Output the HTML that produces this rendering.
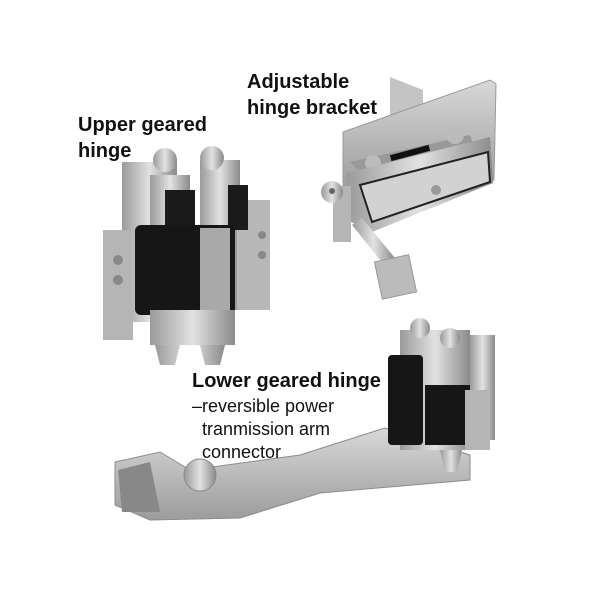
<!DOCTYPE html>
<html><head><style>
body{margin:0;background:#fff;}
svg{display:block}
.b{font-family:"Liberation Sans",sans-serif;font-weight:bold;font-size:20px;fill:#111}
.r{font-family:"Liberation Sans",sans-serif;font-size:18px;fill:#111}
</style></head><body>
<svg width="600" height="600" viewBox="0 0 600 600">
<defs>
<linearGradient id="m" x1="0" x2="1"><stop offset="0" stop-color="#9a9a9a"/><stop offset=".5" stop-color="#e2e2e2"/><stop offset="1" stop-color="#8a8a8a"/></linearGradient>
<linearGradient id="m2" x1="0" y1="0" x2="0" y2="1"><stop offset="0" stop-color="#d8d8d8"/><stop offset="1" stop-color="#9c9c9c"/></linearGradient>
</defs>
<!-- Upper hinge -->
<rect x="122" y="162" width="55" height="160" fill="url(#m)"/>
<rect x="200" y="160" width="40" height="150" fill="url(#m)"/>
<rect x="103" y="230" width="30" height="110" fill="#b5b5b5"/>
<rect x="237" y="200" width="33" height="110" fill="#b8b8b8"/>
<rect x="150" y="175" width="40" height="60" fill="url(#m)"/>
<rect x="165" y="190" width="30" height="45" fill="#1a1a1a"/>
<rect x="228" y="185" width="20" height="45" fill="#1a1a1a"/>
<rect x="135" y="225" width="100" height="90" rx="6" fill="#161616"/>
<rect x="200" y="228" width="30" height="90" fill="#a9a9a9"/>
<rect x="150" y="310" width="85" height="35" fill="url(#m)"/>
<circle cx="165" cy="160" r="12" fill="url(#m)"/><circle cx="212" cy="158" r="12" fill="url(#m)"/>
<path d="M155 345h25l-5 20h-15z M200 345h25l-5 20h-15z" fill="url(#m)"/>
<circle cx="118" cy="260" r="5" fill="#888"/><circle cx="118" cy="280" r="5" fill="#888"/><circle cx="262" cy="235" r="4" fill="#888"/><circle cx="262" cy="255" r="4" fill="#888"/>
<!-- Bracket -->
<polygon points="390,77 423,90 423,127 390,135" fill="#c4c4c4"/>
<polygon points="343,132 490,80 496,84 494,180 343,190" fill="url(#m2)" stroke="#999"/>
<polygon points="350,162 470,135 475,150 360,172" fill="#999"/>
<rect x="390" y="150" width="40" height="6" fill="#111" transform="rotate(-15 410 153)"/>
<circle cx="373" cy="163" r="8" fill="#bbb"/><circle cx="455" cy="135" r="9" fill="#bbb"/>
<polygon points="347,173 490,137 493,183 372,232 347,220" fill="url(#m)"/>
<polygon points="360,185 488,152 490,182 372,222" fill="#d2d2d2" stroke="#222" stroke-width="2"/>
<circle cx="436" cy="190" r="5" fill="#999"/>
<rect x="333" y="186" width="18" height="56" fill="#b5b5b5"/>
<circle cx="332" cy="192" r="11" fill="url(#m)"/><circle cx="332" cy="191" r="3" fill="#666"/>
<polygon points="352,225 362,218 395,258 385,266" fill="url(#m)"/>
<rect x="378" y="258" width="35" height="38" fill="#bbb" stroke="#999" transform="rotate(-12 395 277)"/>
<!-- Arm -->
<polygon points="115,462 160,452 190,470 300,455 385,428 470,455 470,480 320,493 240,518 150,520 115,505" fill="url(#m2)" stroke="#8c8c8c"/>
<polygon points="118,470 150,462 160,512 122,512" fill="#888"/>
<circle cx="200" cy="475" r="16" fill="url(#m)" stroke="#888"/>
<!-- Lower hinge -->
<rect x="470" y="335" width="25" height="105" fill="url(#m)"/>
<rect x="400" y="330" width="70" height="120" fill="url(#m)"/>
<rect x="388" y="355" width="35" height="90" rx="4" fill="#161616"/>
<rect x="425" y="385" width="45" height="60" fill="#161616"/>
<rect x="465" y="390" width="25" height="60" fill="#b5b5b5"/>
<circle cx="420" cy="328" r="10" fill="url(#m)"/><circle cx="450" cy="338" r="10" fill="url(#m)"/>
<path d="M440 450h22l-5 22h-12z" fill="url(#m)"/>
<!-- Labels -->
<text class="b" x="247" y="88">Adjustable</text>
<text class="b" x="247" y="114">hinge bracket</text>
<text class="b" x="78" y="131">Upper geared</text>
<text class="b" x="78" y="157">hinge</text>
<text class="b" x="192" y="387">Lower geared hinge</text>
<text class="r" x="192" y="412">–reversible power</text>
<text class="r" x="202" y="435">tranmission arm</text>
<text class="r" x="202" y="458">connector</text>
</svg>
</body></html>
